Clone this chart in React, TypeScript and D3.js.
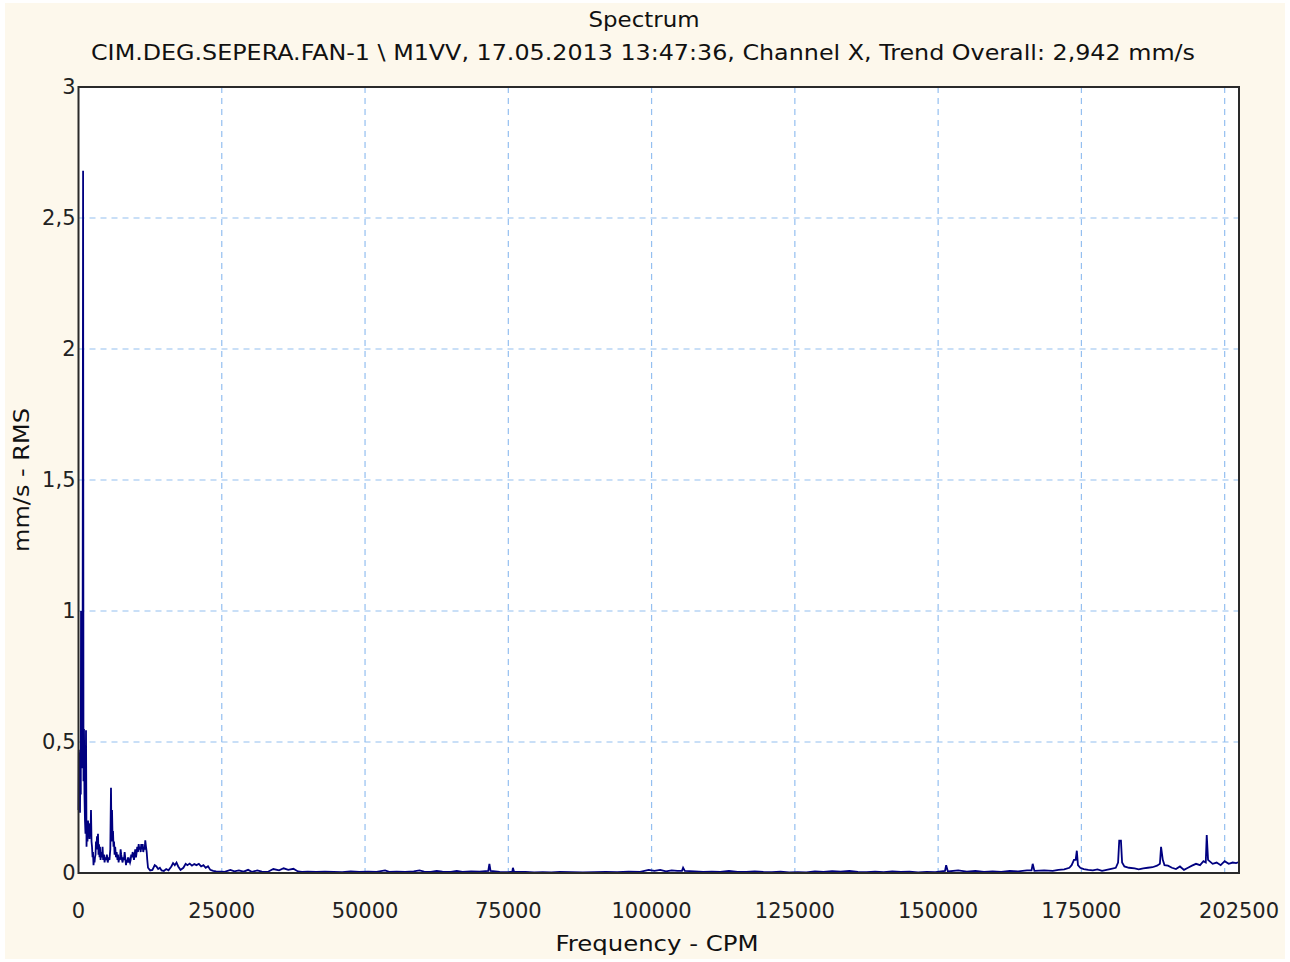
import * as d3 from "d3";

const W = 1290;
const H = 962;

// Spectrum points: [frequency CPM, amplitude mm/s RMS]
const spectrum: [number, number][] = [
  [0, 0.24], [60, 0.47], [130, 0.25], [200, 0.46], [260, 0.23], [330, 0.45], [400, 0.3],
  [440, 1.0], [520, 0.48], [610, 0.98], [700, 0.4], [800, 2.68], [870, 0.35], [960, 0.55],
  [1040, 0.3], [1130, 0.2], [1220, 0.15], [1310, 0.545], [1400, 0.1], [1480, 0.18],
  [1570, 0.12], [1660, 0.2], [1750, 0.15], [1830, 0.18], [1920, 0.13], [2010, 0.19],
  [2100, 0.14], [2180, 0.24], [2270, 0.12], [2360, 0.1], [2450, 0.06], [2530, 0.08],
  [2620, 0.03], [2700, 0.05], [2800, 0.04], [2880, 0.06], [2970, 0.07], [3050, 0.12],
  [3140, 0.1], [3230, 0.14], [3320, 0.09], [3400, 0.15], [3490, 0.07], [3580, 0.11],
  [3670, 0.06], [3750, 0.1], [3850, 0.05], [3950, 0.08], [4100, 0.06], [4200, 0.1],
  [4300, 0.05], [4450, 0.07], [4550, 0.04], [4650, 0.06], [4800, 0.05], [4950, 0.07],
  [5100, 0.04], [5250, 0.06], [5400, 0.05], [5550, 0.09], [5670, 0.325], [5760, 0.12],
  [5850, 0.24], [5940, 0.14], [6020, 0.16], [6110, 0.1], [6200, 0.12], [6300, 0.07],
  [6400, 0.1], [6540, 0.06], [6650, 0.08], [6800, 0.05], [6890, 0.07], [7000, 0.04],
  [7100, 0.06], [7240, 0.05], [7350, 0.09], [7450, 0.07], [7590, 0.05], [7700, 0.04],
  [7800, 0.06], [7940, 0.05], [8050, 0.08], [8150, 0.06], [8290, 0.03], [8400, 0.05],
  [8500, 0.04], [8640, 0.06], [8750, 0.04], [8850, 0.05], [8990, 0.04], [9100, 0.05],
  [9200, 0.07], [9340, 0.06], [9450, 0.08], [9550, 0.07], [9680, 0.05], [9800, 0.07],
  [9900, 0.09], [10030, 0.06], [10150, 0.08], [10250, 0.1], [10380, 0.08], [10500, 0.11],
  [10600, 0.09], [10730, 0.1], [10850, 0.08], [10950, 0.11], [11080, 0.09], [11200, 0.11],
  [11300, 0.08], [11430, 0.1], [11550, 0.09], [11650, 0.125], [11780, 0.1], [11900, 0.08],
  [12000, 0.05], [12130, 0.02], [12500, 0.01], [12900, 0.012], [13300, 0.03], [13600, 0.025],
  [13900, 0.015], [14200, 0.02], [14500, 0.01], [14900, 0.008], [15300, 0.015], [15700, 0.01],
  [16200, 0.025], [16500, 0.038], [16800, 0.03], [17100, 0.04], [17400, 0.025], [17800, 0.012],
  [18300, 0.02], [18700, 0.035], [19000, 0.03], [19400, 0.036], [19800, 0.028], [20200, 0.034],
  [20600, 0.03], [21000, 0.035], [21400, 0.025], [21800, 0.03], [22200, 0.02], [22600, 0.026],
  [23000, 0.012], [23500, 0.008], [24000, 0.006], [24500, 0.005], [25000, 0.005],
  [25500, 0.004], [26500, 0.012], [27200, 0.006], [28000, 0.01], [28800, 0.005], [29600, 0.012],
  [30300, 0.004], [31200, 0.01], [32000, 0.005], [33000, 0.004], [34000, 0.015], [35000, 0.01],
  [35800, 0.018], [36600, 0.012], [37500, 0.016], [38300, 0.006], [39000, 0.004], [40000, 0.005],
  [41500, 0.004], [43000, 0.005], [44500, 0.004], [46000, 0.003], [47500, 0.006], [49000, 0.004],
  [50500, 0.005], [52000, 0.004], [53500, 0.01], [54200, 0.004], [55500, 0.005], [57000, 0.004],
  [58500, 0.006], [59500, 0.01], [60300, 0.005], [61500, 0.004], [62500, 0.008], [63500, 0.005],
  [65000, 0.004], [66000, 0.008], [67000, 0.004], [68500, 0.006], [70000, 0.005], [71500, 0.008],
  [71700, 0.035], [71900, 0.008], [73500, 0.004], [75000, 0.003], [75700, 0.005], [75800, 0.02],
  [76000, 0.005], [78000, 0.004], [79500, 0.002], [81000, 0.003], [82500, 0.002], [84000, 0.004],
  [86000, 0.003], [88000, 0.002], [90000, 0.003], [92000, 0.004], [94000, 0.003], [96000, 0.005],
  [98000, 0.004], [99500, 0.012], [100500, 0.008], [101500, 0.012], [102500, 0.006], [103500, 0.01],
  [104500, 0.008], [105300, 0.008], [105500, 0.02], [105800, 0.008], [107500, 0.006], [109000, 0.004],
  [110500, 0.005], [112000, 0.004], [113500, 0.008], [115000, 0.004], [116500, 0.004], [118000, 0.006],
  [119500, 0.004], [121000, 0.003], [122500, 0.005], [124000, 0.002], [125500, 0.003], [127000, 0.002],
  [128500, 0.006], [130000, 0.004], [131500, 0.007], [133000, 0.005], [134500, 0.008], [136000, 0.004],
  [137500, 0.003], [139000, 0.005], [140500, 0.003], [142000, 0.006], [143500, 0.004], [145000, 0.005],
  [146500, 0.002], [148000, 0.004], [149500, 0.003], [151200, 0.008], [151400, 0.03], [151700, 0.006],
  [153500, 0.01], [155000, 0.005], [156500, 0.008], [158000, 0.004], [159500, 0.006], [161000, 0.004],
  [162500, 0.008], [164000, 0.006], [165500, 0.01], [166300, 0.01], [166500, 0.035], [166800, 0.008],
  [168500, 0.01], [170000, 0.008], [171000, 0.012], [172000, 0.014], [172900, 0.02], [173300, 0.03],
  [173700, 0.05], [174000, 0.05], [174200, 0.085], [174400, 0.03], [174800, 0.02], [175400, 0.015],
  [176200, 0.012], [177000, 0.01], [177800, 0.014], [178600, 0.008], [179400, 0.012], [180200, 0.016],
  [181000, 0.02], [181400, 0.04], [181600, 0.123], [181900, 0.123], [182100, 0.04], [182500, 0.025],
  [183300, 0.02], [184300, 0.018], [185000, 0.014], [185800, 0.018], [186600, 0.02], [187400, 0.022],
  [188200, 0.028], [188700, 0.035], [188900, 0.1], [189200, 0.05], [189500, 0.03], [190100, 0.028],
  [190800, 0.02], [191500, 0.015], [192200, 0.025], [192900, 0.012], [193600, 0.02], [194300, 0.028],
  [195000, 0.035], [195700, 0.03], [196300, 0.045], [196700, 0.04], [196870, 0.145], [197100, 0.05],
  [197900, 0.035], [198600, 0.04], [199300, 0.03], [200000, 0.045], [200700, 0.035], [201400, 0.04],
  [202000, 0.038], [202500, 0.042],
];

const xTicks = [0, 25000, 50000, 75000, 100000, 125000, 150000, 175000, 202500];
const xGrid = [25000, 50000, 75000, 100000, 125000, 150000, 175000, 200000];
const yTicks = [0, 0.5, 1, 1.5, 2, 2.5, 3];

const title = "Spectrum";
const subtitle =
  "CIM.DEG.SEPERA.FAN-1 \\ M1VV, 17.05.2013 13:47:36, Channel X, Trend Overall: 2,942 mm/s";
const xLabel = "Frequency - CPM";
const yLabel = "mm/s - RMS";

export default function App() {
  const margin = { top: 87, right: 51, bottom: 89, left: 78.5 };
  const x = d3
    .scaleLinear()
    .domain([0, 202500])
    .range([margin.left, W - margin.right]);
  const y = d3
    .scaleLinear()
    .domain([0, 3])
    .range([H - margin.bottom, margin.top]);

  const line = d3
    .line<[number, number]>()
    .x((d) => x(d[0]))
    .y((d) => y(d[1]));

  const fmtY = (v: number) => String(v).replace(".", ",");
  const font = "'DejaVu Sans', Verdana, sans-serif";
  const x0 = x(0);
  const x1 = x(202500);
  const y0 = y(0);
  const y1 = y(3);

  return (
    <svg
      width={W}
      height={H}
      style={{ position: "absolute", left: 0, top: 0, display: "block" }}
      fontFamily={font}
    >
      <rect width={W} height={H} fill="#ffffff" />
      <rect x={5} y={3} width={W - 10} height={H - 6} fill="#fdf8ec" />
      <rect x={x0} y={y1} width={x1 - x0} height={y0 - y1} fill="#ffffff" />

      {/* grid */}
      {xGrid.map((t) => (
        <line
          key={"gx" + t}
          x1={x(t)}
          x2={x(t)}
          y1={y1}
          y2={y0}
          stroke="#94bff0"
          strokeWidth={1.2}
          strokeDasharray="6,5"
        />
      ))}
      {yTicks.slice(1, -1).map((t) => (
        <line
          key={"gy" + t}
          x1={x0}
          x2={x1}
          y1={y(t)}
          y2={y(t)}
          stroke="#94bff0"
          strokeWidth={1.2}
          strokeDasharray="6,5"
        />
      ))}

      {/* spectrum */}
      <path
        d={line(spectrum) ?? ""}
        fill="none"
        stroke="#000080"
        strokeWidth={1.8}
        strokeLinejoin="miter"
      />

      {/* frame */}
      <rect
        x={x0}
        y={y1}
        width={x1 - x0}
        height={y0 - y1}
        fill="none"
        stroke="#2a2a2a"
        strokeWidth={2}
      />

      {/* y tick labels */}
      {yTicks.map((t) => (
        <text
          key={"ty" + t}
          x={x0 - 3}
          y={y(t)}
          textAnchor="end"
          dominantBaseline="central"
          fontSize={21}
          fill="#222"
        >
          {fmtY(t)}
        </text>
      ))}

      {/* x tick labels */}
      {xTicks.map((t) => (
        <text
          key={"tx" + t}
          x={x(t)}
          y={y0 + 45}
          textAnchor="middle"
          fontSize={21}
          fill="#222"
        >
          {t}
        </text>
      ))}

      <text
        x={644}
        y={27}
        textAnchor="middle"
        fontSize={22}
        fill="#111"
        textLength={111}
        lengthAdjust="spacingAndGlyphs"
      >
        {title}
      </text>
      <text
        x={643}
        y={60}
        textAnchor="middle"
        fontSize={22}
        fill="#111"
        textLength={1104}
        lengthAdjust="spacingAndGlyphs"
      >
        {subtitle}
      </text>
      <text
        x={657}
        y={951}
        textAnchor="middle"
        fontSize={22}
        fill="#111"
        textLength={203}
        lengthAdjust="spacingAndGlyphs"
      >
        {xLabel}
      </text>
      <text
        transform={`translate(29,${480}) rotate(-90)`}
        textAnchor="middle"
        fontSize={22}
        fill="#111"
        textLength={144}
        lengthAdjust="spacingAndGlyphs"
      >
        {yLabel}
      </text>
    </svg>
  );
}
